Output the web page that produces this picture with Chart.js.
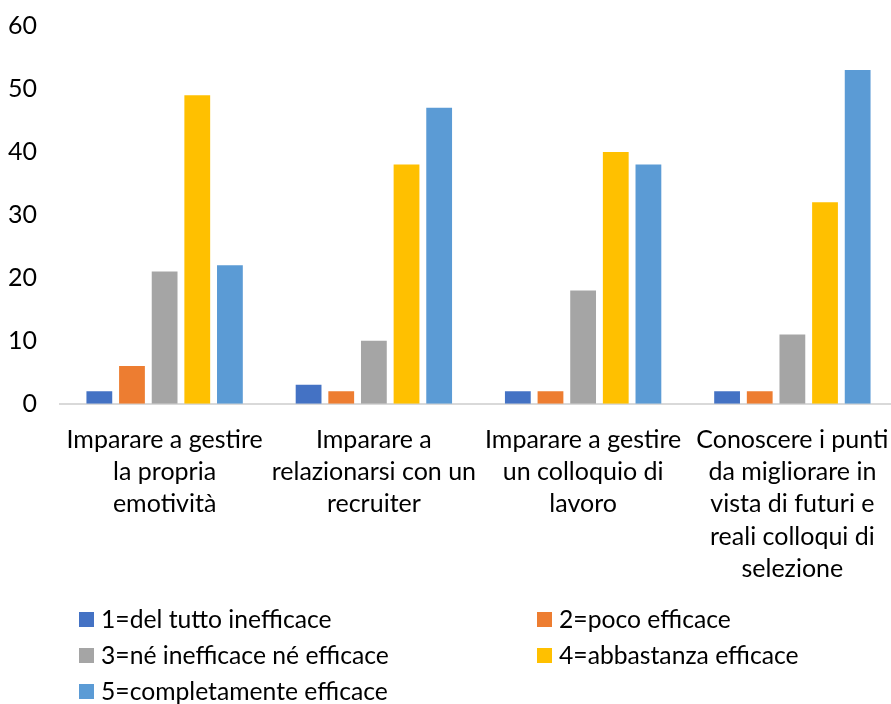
<!DOCTYPE html>
<html>
<head>
<meta charset="utf-8">
<script src="https://cdn.jsdelivr.net/npm/chart.js@4/dist/chart.umd.min.js"></script>
<style>
  body { margin: 0; background: #fff; font-family: Lato, sans-serif; overflow: hidden; }
  #wrap { position: relative; width: 891px; height: 704px; overflow: hidden; }
  #chart-box { position: absolute; left: 0; top: 0; width: 897px; height: 605px; }
  #legend {
    position: absolute; left: 79px; top: 601px; width: 810px;
    display: grid; grid-template-columns: 458px 350px; row-gap: 0;
    font-size: 24.7px; color: #000;
  }
  #legend div { height: 36px; line-height: 36px; display: flex; align-items: center; white-space: nowrap; }
  #legend span.sw { width: 15px; height: 15px; margin-right: 7px; display: inline-block; flex: none; }
</style>
</head>
<body>
<div id="wrap">
  <div id="chart-box"><canvas id="chart-eff"></canvas></div>
  <div id="legend"></div>
</div>
<script>
const categories = [
  ['Imparare a gestire', 'la propria', 'emotività'],
  ['Imparare a', 'relazionarsi con un', 'recruiter'],
  ['Imparare a gestire', 'un colloquio di', 'lavoro'],
  ['Conoscere i punti', 'da migliorare in', 'vista di futuri e', 'reali colloqui di', 'selezione']
];
const seriesNames = [
  '1=del tutto inefficace',
  '2=poco efficace',
  '3=né inefficace né efficace',
  '4=abbastanza efficace',
  '5=completamente efficace'
];
const delTutto      = [2, 3, 2, 2];
const poco          = [6, 2, 2, 2];
const neNe          = [21, 10, 18, 11];
const abbastanza    = [49, 38, 40, 32];
const completamente = [22, 47, 38, 53];
const yTicks = [0, 10, 20, 30, 40, 50, 60];

const colors = ['#4472C4', '#ED7D31', '#A5A5A5', '#FFC000', '#5B9BD5'];
const values = [delTutto, poco, neNe, abbastanza, completamente];

const datasets = seriesNames.map((name, i) => ({
  label: name,
  data: values[i],
  backgroundColor: colors[i],
  barPercentage: 0.79,
  categoryPercentage: 0.78
}));

new Chart(document.getElementById('chart-eff'), {
  type: 'bar',
  data: { labels: categories, datasets },
  options: {
    responsive: true,
    maintainAspectRatio: false,
    animation: false,
    layout: { padding: { top: 26, left: 0, right: 0, bottom: 0 } },
    plugins: {
      legend: { display: false },
      tooltip: { enabled: false }
    },
    scales: {
      x: {
        afterFit: axis => { axis.paddingLeft = 0; axis.paddingRight = 0; },
        grid: { display: false, drawTicks: false },
        border: { color: '#D9D9D9', width: 2 },
        ticks: {
          color: '#000',
          font: { family: 'Lato', size: 25, lineHeight: 1.29 },
          padding: 20,
          maxRotation: 0,
          autoSkip: false
        }
      },
      y: {
        min: 0,
        max: 60,
        afterBuildTicks: axis => { axis.ticks = yTicks.map(v => ({ value: v })); },
        afterFit: axis => { axis.width = 60; axis.paddingTop = 0; axis.paddingBottom = 0; },
        grid: { display: false, drawTicks: false },
        border: { display: false },
        ticks: {
          color: '#000',
          font: { family: 'Lato', size: 25 },
          padding: 23
        }
      }
    }
  }
});

const legendEl = document.getElementById('legend');
seriesNames.forEach((name, i) => {
  const item = document.createElement('div');
  item.innerHTML = '<span class="sw" style="background:' + colors[i] + '"></span>' + name;
  legendEl.appendChild(item);
});
</script>
</body>
</html>
